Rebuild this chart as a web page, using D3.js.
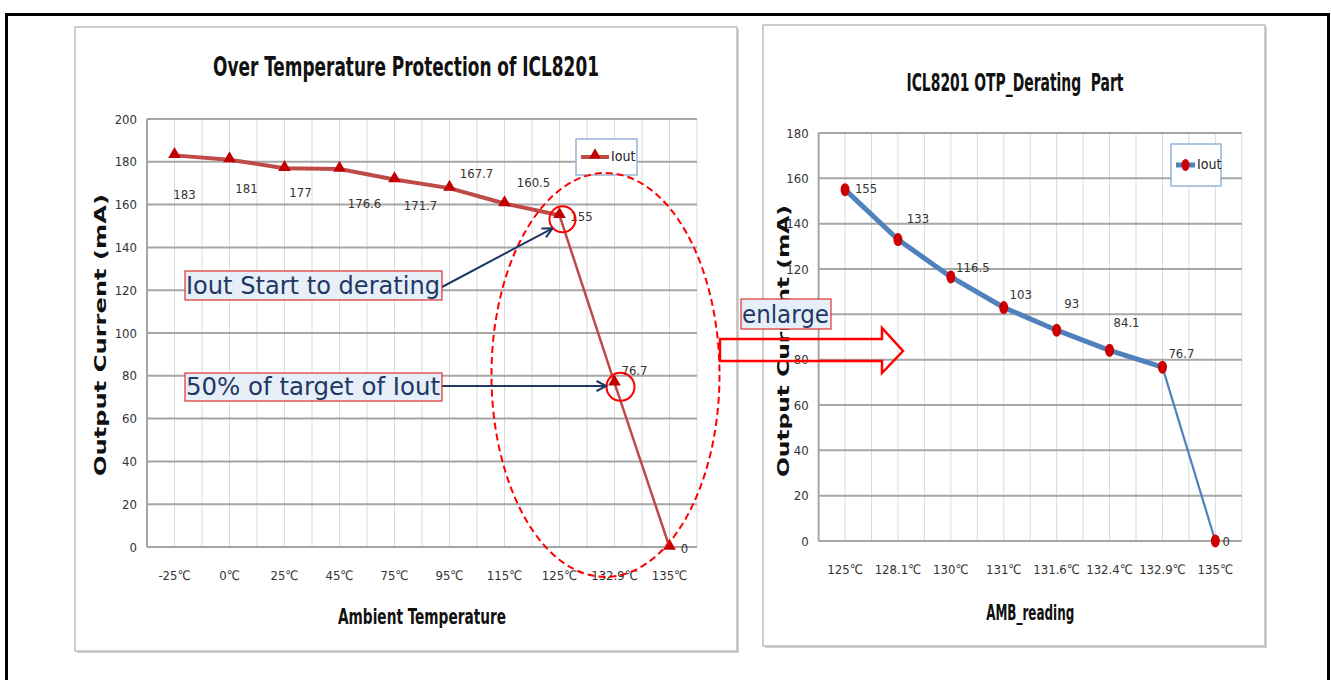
<!DOCTYPE html>
<html><head><meta charset="utf-8">
<script src="https://cdn.jsdelivr.net/npm/d3@7/dist/d3.min.js"></script>
<style>
html,body{margin:0;padding:0;background:#fff;}
svg{display:block;}
</style></head>
<body>
<svg id="c" width="1331" height="680"></svg>
<script>
// ---------- data ----------
const leftCategories = ["-25℃","0℃","25℃","45℃","75℃","95℃","115℃","125℃","132.9℃","135℃"];
const leftValues = [183,181,177,176.6,171.7,167.7,160.5,155,76.7,0];
const leftLabels = ["183","181","177","176.6","171.7","167.7","160.5","155","76.7","0"];
const leftYTicks = [0,20,40,60,80,100,120,140,160,180,200];

const rightCategories = ["125℃","128.1℃","130℃","131℃","131.6℃","132.4℃","132.9℃","135℃"];
const rightValues = [155,133,116.5,103,93,84.1,76.7,0];
const rightLabels = ["155","133","116.5","103","93","84.1","76.7","0"];
const rightYTicks = [0,20,40,60,80,100,120,140,160,180];

// label offsets (layout only)
const leftLabelOffsets = [[10,40],[17,30],[16,25],[25,35],[26,27],[27,-14],[29,-20],[22,2],[20,-11],[15,2]];
const rightLabelOffsets = [[21,0],[20,-20],[22,-8],[17,-12],[15,-26],[17,-27],[19,-13],[11,1]];

const svg = d3.select("#c");
const COND = '"DejaVu Sans Condensed","Liberation Sans Narrow","Arial Narrow",sans-serif';

// outer frame
svg.append("rect").attr("x",6.5).attr("y",14.5).attr("width",1322).attr("height",700)
  .attr("fill","none").attr("stroke","#000").attr("stroke-width",3);

function panel(x0,y0,x1,y1){
  svg.append("rect").attr("x",x0+2).attr("y",y0+2).attr("width",x1-x0).attr("height",y1-y0)
    .attr("fill","#d0d0d0");
  svg.append("rect").attr("x",x0).attr("y",y0).attr("width",x1-x0).attr("height",y1-y0)
    .attr("fill","#fff").attr("stroke","#bdbdbd").attr("stroke-width",1.5);
}

function chart(o){
  const g = svg.append("g");
  const x = d3.scaleBand().domain(o.cats).range([o.left,o.right]);
  const y = d3.scaleLinear().domain([0,o.ymax]).range([o.bottom,o.top]);
  const half = x.bandwidth()/2;
  const vx = d3.range(0, o.cats.length*2+1).map(i=>o.left+i*half);
  g.selectAll("line.v").data(vx).enter().append("line")
    .attr("x1",d=>d).attr("x2",d=>d).attr("y1",o.top).attr("y2",o.bottom)
    .attr("stroke","#d9d9d9").attr("stroke-width",1);
  g.selectAll("line.h").data(o.ticks).enter().append("line")
    .attr("x1",o.left).attr("x2",o.right).attr("y1",d=>y(d)).attr("y2",d=>y(d))
    .attr("stroke","#a6a6a6").attr("stroke-width",2);
  g.append("line").attr("x1",o.left).attr("x2",o.left).attr("y1",o.top).attr("y2",o.bottom)
    .attr("stroke","#a6a6a6").attr("stroke-width",2);
  const ya = g.append("g").attr("transform",`translate(${o.left},0)`)
    .call(d3.axisLeft(y).tickValues(o.ticks).tickSize(0).tickPadding(o.ypad));
  ya.select(".domain").remove();
  ya.selectAll("text").attr("font-family",COND).attr("font-size",13).attr("fill","#333");
  const xa = g.append("g").attr("transform",`translate(0,${o.bottom})`)
    .call(d3.axisBottom(x).tickSize(0).tickPadding(o.xpad));
  xa.select(".domain").remove();
  xa.selectAll("text").attr("font-family",COND).attr("font-size",13).attr("fill","#333");
  g.append("text").attr("x",o.titleX).attr("y",o.titleY).attr("text-anchor","middle")
    .attr("font-family",COND).attr("font-weight","bold").attr("font-size",o.titleSize)
    .style("white-space","pre").attr("xml:space","preserve")
    .attr("textLength",o.titleLen).attr("lengthAdjust","spacingAndGlyphs").attr("fill","#111").text(o.title);
  g.append("text").attr("x",(o.left+o.right)/2).attr("y",o.xtitleY).attr("text-anchor","middle")
    .attr("font-family",COND).attr("font-weight","bold").attr("font-size",21)
    .attr("textLength",o.xtitleLen).attr("lengthAdjust","spacingAndGlyphs").attr("fill","#111").text(o.xtitle);
  g.append("text").attr("transform",`translate(${o.ytitleX},${o.ytitleY}) rotate(-90)`)
    .attr("text-anchor","middle").attr("font-family","DejaVu Sans, Verdana, sans-serif")
    .attr("font-weight","bold").attr("font-size",15).attr("fill","#111")
    .attr("textLength",o.ytitleLen).attr("lengthAdjust","spacingAndGlyphs").text("Output Current (mA)");
  const pts = o.vals.map((v,i)=>({x:x(o.cats[i])+half,y:y(v),v:v,i:i}));
  const line = d3.line().x(d=>d.x).y(d=>d.y);
  const splitAt = o.splitAt;
  g.append("path").attr("d",line(pts.slice(splitAt))).attr("fill","none")
    .attr("stroke",o.lineColor).attr("stroke-width",o.thinW);
  g.append("path").attr("d",line(pts.slice(0,splitAt+1))).attr("fill","none")
    .attr("stroke",o.lineColor).attr("stroke-width",o.thickW).attr("stroke-linejoin","round");
  if(o.marker==="tri"){
    g.selectAll("path.m").data(pts).enter().append("path")
      .attr("d",d3.symbol().type(d3.symbolTriangle).size(70))
      .attr("transform",d=>`translate(${d.x},${d.y-1})`).attr("fill","#c00000");
  } else {
    g.selectAll("ellipse.m").data(pts).enter().append("ellipse")
      .attr("cx",d=>d.x).attr("cy",d=>d.y).attr("rx",4.5).attr("ry",6.5).attr("fill","#cc0000");
  }
  g.selectAll("text.lab").data(pts).enter().append("text")
    .attr("x",d=>d.x+o.offs[d.i][0]).attr("y",d=>d.y+o.offs[d.i][1])
    .attr("text-anchor","middle").attr("dominant-baseline","middle")
    .attr("font-family",COND).attr("font-size",13).attr("fill","#333")
    .text(d=>o.labels[d.i]);
  const L = o.legend;
  g.append("rect").attr("x",L[0]).attr("y",L[1]).attr("width",L[2]).attr("height",L[3])
    .attr("fill","#fff").attr("stroke","#95b3d7").attr("stroke-width",1.5);
  const ly = L[1]+L[3]/2;
  g.append("line").attr("x1",L[0]+5).attr("x2",L[0]+L[4]).attr("y1",ly).attr("y2",ly)
    .attr("stroke",o.lineColor).attr("stroke-width",o.thickW);
  if(o.marker==="tri"){
    g.append("path").attr("d",d3.symbol().type(d3.symbolTriangle).size(60)())
      .attr("transform",`translate(${L[0]+5+(L[4]-5)/2},${ly-2})`).attr("fill","#c00000");
  } else {
    g.append("ellipse").attr("cx",L[0]+5+(L[4]-5)/2).attr("cy",ly).attr("rx",4).attr("ry",6).attr("fill","#cc0000");
  }
  g.append("text").attr("x",L[0]+L[4]+2).attr("y",ly).attr("dominant-baseline","middle")
    .attr("font-family",COND).attr("font-size",14).attr("fill","#222").text("Iout");
  return {x,y,pts};
}

panel(75,27,737,651);
panel(763,25,1265,646);

const A = chart({cats:leftCategories,vals:leftValues,labels:leftLabels,ticks:leftYTicks,ymax:200,
  left:147,right:697,top:119,bottom:547,ypad:10,xpad:24,
  title:"Over Temperature Protection of ICL8201",titleX:406,titleY:76,titleSize:26,titleLen:386,
  xtitle:"Ambient Temperature",xtitleY:624,xtitleLen:168,
  ytitleX:106,ytitleY:335,ytitleLen:282,
  lineColor:"#be4b48",thickW:4,thinW:2.5,splitAt:7,marker:"tri",offs:leftLabelOffsets,
  legend:[576,139,61,36,33]});

const B = chart({cats:rightCategories,vals:rightValues,labels:rightLabels,ticks:rightYTicks,ymax:180,
  left:818.6,right:1241.8,top:133,bottom:541,ypad:10,xpad:24,
  title:"ICL8201 OTP_Derating  Part",titleX:1015,titleY:91,titleSize:25,titleLen:217,
  xtitle:"AMB_reading",xtitleY:620,xtitleLen:88,
  ytitleX:789,ytitleY:341,ytitleLen:272,
  lineColor:"#4f81bd",thickW:5,thinW:2.2,splitAt:6,marker:"ell",offs:rightLabelOffsets,
  legend:[1171,144,50,42,24]});

// ---------- annotations ----------
const ann = svg.append("g");
const p155 = A.pts[7], p767 = A.pts[8];
ann.append("ellipse").attr("cx",p155.x+46).attr("cy",375).attr("rx",114).attr("ry",202)
  .attr("fill","none").attr("stroke","#ff0000").attr("stroke-width",2).attr("stroke-dasharray","7,4");
ann.append("circle").attr("cx",p155.x+3).attr("cy",p155.y+4).attr("r",13)
  .attr("fill","none").attr("stroke","#ff0000").attr("stroke-width",2);
ann.append("circle").attr("cx",p767.x+6).attr("cy",p767.y+4).attr("r",14)
  .attr("fill","none").attr("stroke","#ff0000").attr("stroke-width",2);

const defs = svg.append("defs");
defs.append("marker").attr("id","ah").attr("viewBox","0 0 12 12").attr("refX",11).attr("refY",6)
  .attr("markerWidth",12).attr("markerHeight",12).attr("markerUnits","userSpaceOnUse").attr("orient","auto")
  .append("path").attr("d","M1,1 L11,6 L1,11").attr("fill","none").attr("stroke","#1f3864").attr("stroke-width",2);

ann.append("line").attr("x1",442).attr("y1",287).attr("x2",p155.x-7).attr("y2",p155.y+13)
  .attr("stroke","#1f3864").attr("stroke-width",2).attr("marker-end","url(#ah)");
ann.append("line").attr("x1",442).attr("y1",386).attr("x2",p767.x-8).attr("y2",386)
  .attr("stroke","#1f3864").attr("stroke-width",2).attr("marker-end","url(#ah)");

function tbox(x0,y0,w,h,txt){
  ann.append("rect").attr("x",x0).attr("y",y0).attr("width",w).attr("height",h)
    .attr("fill","#e6eef8").attr("stroke","#e03030").attr("stroke-width",1.2);
  ann.append("text").attr("x",x0+1).attr("y",y0+h-6).attr("font-family","DejaVu Sans, Verdana, sans-serif")
    .attr("font-size",24).attr("fill","#1f3864").attr("textLength",w-3).attr("lengthAdjust","spacingAndGlyphs").text(txt);
}
tbox(185,271,257,29,"Iout Start to derating");
tbox(185,373,257,28,"50% of target of Iout");
tbox(741,299,90,30,"enlarge");

ann.append("path").attr("d","M720,339 L882,339 L882,328 L903,351 L882,373 L882,361 L720,361 Z")
  .attr("fill","none").attr("stroke","#ff0000").attr("stroke-width",2.5);
</script>
</body></html>
